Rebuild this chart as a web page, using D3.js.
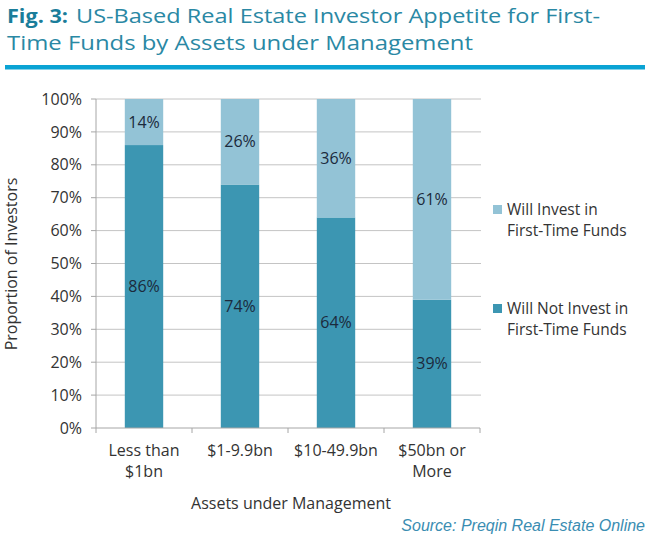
<!DOCTYPE html>
<html>
<head>
<meta charset="utf-8">
<script src="https://cdn.jsdelivr.net/npm/d3@7"></script>
<style>
  html, body { margin: 0; padding: 0; background: #fff; }
  svg { display: block; }
</style>
</head>
<body>
<svg id="chart" width="650" height="546"></svg>
<script>
// ---- data ----
const categories = [["Less than", "$1bn"], ["$1-9.9bn"], ["$10-49.9bn"], ["$50bn or", "More"]];
const willNotInvest = [86, 74, 64, 39];
const willInvest = [14, 26, 36, 61];
const seriesNames = [["Will Invest in", "First-Time Funds"], ["Will Not Invest in", "First-Time Funds"]];
const yTicks = [0, 10, 20, 30, 40, 50, 60, 70, 80, 90, 100];
const titleLines = ["US-Based Real Estate Investor Appetite for First-", "Time Funds by Assets under Management"];
const figLabel = "Fig. 3:";
const yTitle = "Proportion of Investors";
const xTitle = "Assets under Management";
const sourceText = "Source: Preqin Real Estate Online";

// ---- styles ----
const darkCol = "#3c96b2", lightCol = "#93c3d6";
const font = "'Open Sans', sans-serif";
const svg = d3.select("#chart");

// ---- title ----
const tSize = 19.5;
svg.append("text").attr("x", 7).attr("y", 23)
  .attr("font-family", font).attr("font-size", tSize).attr("font-weight", "bold").attr("fill", "#1a7d9a")
  .attr("textLength", 61).attr("lengthAdjust", "spacingAndGlyphs").text(figLabel);
svg.append("text").attr("x", 76).attr("y", 23)
  .attr("font-family", font).attr("font-size", tSize).attr("fill", "#2a88a4")
  .attr("textLength", 524).attr("lengthAdjust", "spacingAndGlyphs").text(titleLines[0]);
svg.append("text").attr("x", 7).attr("y", 50)
  .attr("font-family", font).attr("font-size", tSize).attr("fill", "#2a88a4")
  .attr("textLength", 466).attr("lengthAdjust", "spacingAndGlyphs")
  .text(titleLines[1]);
svg.append("rect").attr("x", 5).attr("y", 65).attr("width", 640).attr("height", 4.5).attr("fill", "#0aa3d4");

// ---- scales ----
const x0 = 96, x1 = 480, yTop = 99, yBot = 428;
const idx = categories.map((d, i) => i);
const x = d3.scaleBand().domain(idx).range([x0, x1]).paddingInner(0.6).paddingOuter(0.3);
const xb = d3.scaleLinear().domain([0, categories.length]).range([x0, x1]);
const y = d3.scaleLinear().domain([0, 100]).range([yBot, yTop]);

// ---- grid ----
svg.append("g").selectAll("line").data(yTicks.filter(d => d > 0)).join("line")
  .attr("x1", x0).attr("x2", x1 + 1).attr("y1", d => y(d)).attr("y2", d => y(d))
  .attr("stroke", "#c4c4c4").attr("stroke-width", 1);

// ---- bars ----
const stacks = idx.map(i => ({ i, lo: willNotInvest[i], hi: willInvest[i] }));
const g = svg.append("g");
g.selectAll("rect.dark").data(stacks).join("rect").attr("class", "dark")
  .attr("x", d => x(d.i)).attr("width", x.bandwidth())
  .attr("y", d => y(d.lo)).attr("height", d => y(0) - y(d.lo)).attr("fill", darkCol);
g.selectAll("rect.light").data(stacks).join("rect").attr("class", "light")
  .attr("x", d => x(d.i)).attr("width", x.bandwidth())
  .attr("y", d => y(d.lo + d.hi)).attr("height", d => y(d.lo) - y(d.lo + d.hi)).attr("fill", lightCol);

// ---- axes ----
const axisCol = "#a6a6a6";
svg.append("line").attr("x1", x0).attr("x2", x0).attr("y1", yTop).attr("y2", yBot).attr("stroke", axisCol);
svg.append("g").selectAll("line").data(yTicks).join("line")
  .attr("x1", x0 - 5).attr("x2", x0).attr("y1", d => y(d)).attr("y2", d => y(d)).attr("stroke", axisCol);
svg.append("line").attr("x1", x0).attr("x2", x1).attr("y1", yBot).attr("y2", yBot).attr("stroke", axisCol);
svg.append("g").selectAll("line").data(d3.range(categories.length + 1)).join("line")
  .attr("x1", d => xb(d)).attr("x2", d => xb(d)).attr("y1", yBot).attr("y2", yBot + 5).attr("stroke", axisCol);

// y tick labels
svg.append("g").selectAll("text").data(yTicks).join("text")
  .attr("x", 82).attr("y", d => y(d)).attr("dy", "0.35em").attr("text-anchor", "end")
  .attr("font-family", font).attr("font-size", 16).attr("fill", "#333")
  .text(d => d + "%");

// x tick labels
const xl = svg.append("g").selectAll("text").data(idx).join("text")
  .attr("x", d => x(d) + x.bandwidth() / 2).attr("y", 456).attr("text-anchor", "middle")
  .attr("font-family", font).attr("font-size", 16).attr("fill", "#333");
xl.selectAll("tspan").data(d => categories[d].map(s => ({ s, d }))).join("tspan")
  .attr("x", o => x(o.d) + x.bandwidth() / 2).attr("dy", (o, j) => j === 0 ? 0 : 21).text(o => o.s);

// bar value labels
g.selectAll("text.vd").data(stacks).join("text").attr("class", "vd")
  .attr("x", d => x(d.i) + x.bandwidth() / 2).attr("y", d => y(d.lo / 2)).attr("dy", "0.35em")
  .attr("text-anchor", "middle").attr("font-family", font).attr("font-size", 16).attr("fill", "#1b2a3c")
  .text(d => d.lo + "%");
g.selectAll("text.vl").data(stacks).join("text").attr("class", "vl")
  .attr("x", d => x(d.i) + x.bandwidth() / 2).attr("y", d => y(d.lo + d.hi / 2)).attr("dy", "0.35em")
  .attr("text-anchor", "middle").attr("font-family", font).attr("font-size", 16).attr("fill", "#1b2a3c")
  .text(d => d.hi + "%");

// axis titles
svg.append("text").attr("transform", "translate(17,264) rotate(-90)").attr("text-anchor", "middle")
  .attr("font-family", font).attr("font-size", 16).attr("fill", "#333").text(yTitle);
svg.append("text").attr("x", 291).attr("y", 509).attr("text-anchor", "middle")
  .attr("font-family", font).attr("font-size", 16).attr("fill", "#333").text(xTitle);

// legend
const legendCols = [lightCol, darkCol];
const legendY = [205, 304];
const lg = svg.append("g").selectAll("g").data(seriesNames).join("g")
  .attr("transform", (d, i) => `translate(493,${legendY[i]})`);
lg.append("rect").attr("width", 9).attr("height", 9).attr("fill", (d, i) => legendCols[i]);
lg.selectAll("text").data(d => d).join("text")
  .attr("font-family", font).attr("font-size", 15.5).attr("fill", "#333")
  .attr("x", 14).attr("y", (s, j) => 10 + j * 20.5).text(s => s);

// source
svg.append("text").attr("x", 645).attr("y", 531).attr("text-anchor", "end")
  .attr("font-family", "'Liberation Sans', Arial, sans-serif").attr("font-style", "italic")
  .attr("font-size", 16).attr("fill", "#3a8db2").text(sourceText);
</script>
</body>
</html>
